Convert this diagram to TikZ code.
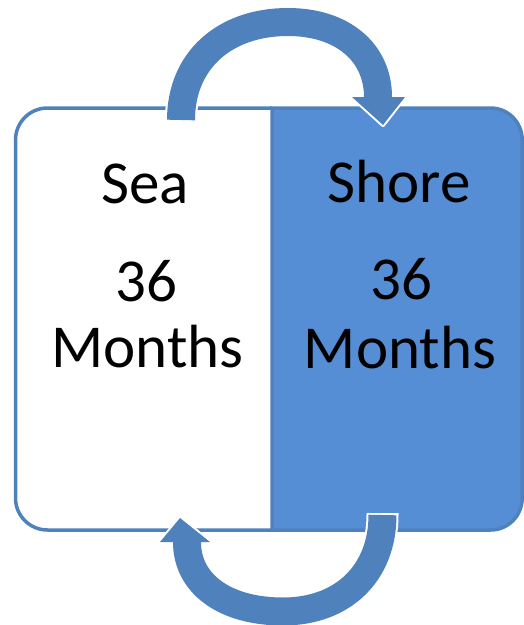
\documentclass[tikz,border=0pt]{standalone}
\usepackage{fontspec}
\setmainfont{Carlito}
\definecolor{arrowblue}{RGB}{79,129,189}
\definecolor{fillblue}{RGB}{85,142,213}
\begin{document}
\begin{tikzpicture}[x=1pt,y=-1pt,
  boxline/.style={draw=arrowblue,line width=3.5pt},
  lbl/.style={anchor=base,inner sep=0pt,font=\fontsize{61}{73}\selectfont,text=black},
  shaftwhite/.style={draw=white,line width=32pt},
  shaftblue/.style={draw=arrowblue,line width=28pt},
  headwhite/.style={draw=white,fill=white,line width=4pt,line join=round},
  headblue/.style={fill=arrowblue}]
\useasboundingbox (0,0) rectangle (524,625);
% left box (white)
\path[boxline] (272,108) -- (47.5,108) .. controls (29.8,108) and (15.5,122.3) .. (15.5,140)
  -- (15.5,498) .. controls (15.5,515.7) and (29.8,530) .. (47.5,530) -- (272,530);
% right box (filled)
\path[boxline,fill=fillblue] (272,108) -- (490.5,108) .. controls (508.2,108) and (522.2,122.3) .. (522.2,140)
  -- (522.2,498) .. controls (522.2,515.7) and (508.2,530) .. (490.5,530) -- (272,530) -- cycle;
% top arrow
\path[shaftwhite] (181,122) -- (181,120) .. controls (181,61) and (224,22) .. (288,22)
  .. controls (342,22) and (378,52) .. (378,97);
\path[headwhite] (352,97) -- (405,97) -- (383,125) -- cycle;
\path[shaftblue] (181,120) .. controls (181,61) and (224,22) .. (288,22)
  .. controls (342,22) and (378,52) .. (378,97) -- (378,100);
\path[headblue] (352,97) -- (405,97) -- (383,125) -- cycle;
% bottom arrow
\path[shaftwhite] (382.5,513) -- (382.5,515) .. controls (382.5,573) and (343,611.5) .. (283,611.5)
  .. controls (225,611.5) and (187,584) .. (187,542);
\path[headwhite] (160,542) -- (210,542) -- (180,518) -- cycle;
\path[shaftblue] (382.5,515) .. controls (382.5,573) and (343,611.5) .. (283,611.5)
  .. controls (225,611.5) and (187,584) .. (187,542) -- (187,539);
\path[headblue] (160,542) -- (210,542) -- (180,518) -- cycle;
% texts
\node[lbl] (sea) at (145,203) {Sea};
\node[lbl] (sea36) at (146,301) {36};
\node[lbl] (seamonths) at (147.5,367) {Months};
\node[lbl] (shore) at (399,202) {Shore};
\node[lbl] (shore36) at (401,299) {36};
\node[lbl] (shoremonths) at (400,368) {Months};
\end{tikzpicture}
\end{document}
